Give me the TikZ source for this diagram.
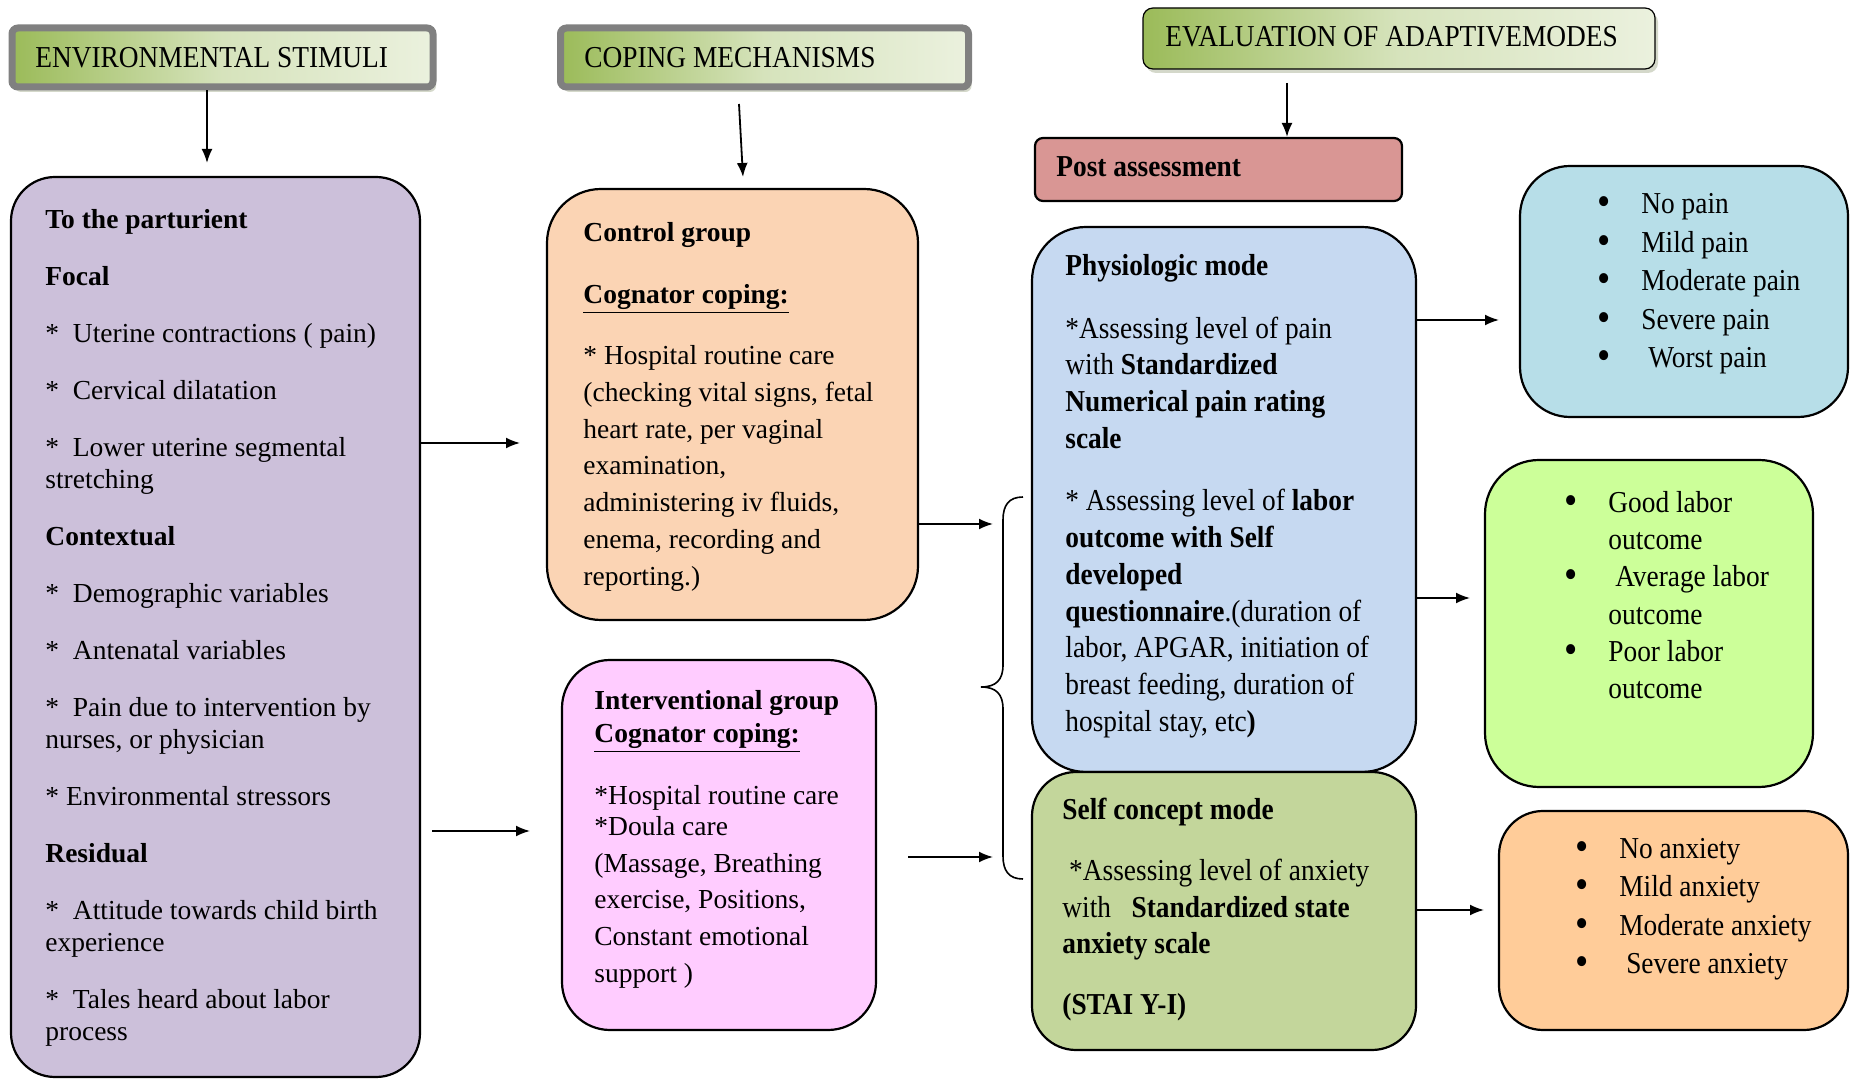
\documentclass[tikz,border=0pt]{standalone}
\usepackage{fontspec}
\setmainfont{Liberation Serif}
\newfontfamily\narrowfont[FakeStretch=0.9]{Liberation Serif}
\usepackage{xcolor}
\usetikzlibrary{arrows.meta,shadows}

\definecolor{hdark}{RGB}{155,187,89}
\definecolor{hmid}{RGB}{214,227,188}
\definecolor{hlight}{RGB}{235,241,222}
\definecolor{hgray}{RGB}{128,128,128}
\definecolor{hshadow}{RGB}{170,178,150}
\definecolor{stimfill}{RGB}{204,192,218}
\definecolor{ctrlfill}{RGB}{251,212,180}
\definecolor{intfill}{RGB}{255,204,255}
\definecolor{physfill}{RGB}{198,217,241}
\definecolor{selffill}{RGB}{195,214,155}
\definecolor{postfill}{RGB}{217,150,148}
\definecolor{painfill}{RGB}{183,222,232}
\definecolor{laborfill}{RGB}{204,255,153}
\definecolor{anxfill}{RGB}{255,204,153}

\newcommand{\itembul}{\makebox[22pt][l]{\raisebox{-1pt}{\fontsize{21pt}{21pt}\selectfont\textbullet}}}
\newcommand{\itemskip}{\hspace*{22pt}}

\begin{document}
\begin{tikzpicture}[x=0.5pt,y=0.5pt,yscale=-1,
  rbox/.style={draw, line width=1.1pt, inner sep=0pt},
  head/.style={left color=hdark, right color=hlight, middle color=hmid, inner sep=0pt},
  txt/.style={anchor=north west, inner sep=0pt, align=left},
  widetxt/.style={txt, font=\fontsize{13.75pt}{16pt}\selectfont},
  opentxt/.style={txt, font=\fontsize{13.75pt}{18.35pt}\selectfont},
  narrowtxt/.style={txt, font=\narrowfont\fontsize{15.2pt}{18.35pt}\selectfont},
  headtxt/.style={anchor=west, inner sep=0pt, font=\narrowfont\fontsize{15.2pt}{18pt}\selectfont},
  arr/.style={-{Latex[length=7pt,width=5.5pt]}, line width=0.9pt}]
\useasboundingbox (0,0) rectangle (1854,1079);

%Shape: Header boxes
\node [head, draw=hgray, line width=3.5pt, rounded corners=3pt, minimum width=210.5pt, minimum height=29.5pt,
  drop shadow={shadow xshift=1.5pt, shadow yshift=-2.5pt, fill=hshadow}] (envhead) at (222.5,57.5) {};
\node [head, draw=hgray, line width=3.5pt, rounded corners=3pt, minimum width=204pt, minimum height=29.5pt,
  drop shadow={shadow xshift=1.5pt, shadow yshift=-2.5pt, fill=hshadow}] (copehead) at (764.5,57.5) {};
\node [head, draw, line width=0.6pt, rounded corners=5pt, minimum width=256pt, minimum height=30.5pt,
  drop shadow={shadow xshift=1.5pt, shadow yshift=-2pt, fill=hshadow}] (evalhead) at (1399,38.5) {};

%Shape: Post assessment
\node [rbox, fill=postfill, rounded corners=4pt, minimum width=183.5pt, minimum height=31.5pt] (post) at (1218.5,169.5) {};

%Shape: Rounded boxes
\node [rbox, fill=stimfill, rounded corners=22pt, minimum width=204.5pt, minimum height=450pt] (stimuli) at (215.5,627) {};
\node [rbox, fill=ctrlfill, rounded corners=27pt, minimum width=185.5pt, minimum height=215.5pt] (control) at (732.5,404.5) {};
\node [rbox, fill=intfill, rounded corners=24pt, minimum width=157pt, minimum height=185pt] (interv) at (719,845) {};
\node [rbox, fill=physfill, rounded corners=27pt, minimum width=192pt, minimum height=272.5pt] (physio) at (1224,499.5) {};
\node [rbox, fill=selffill, rounded corners=22pt, minimum width=192pt, minimum height=139pt] (selfc) at (1224,911) {};
\node [rbox, fill=painfill, rounded corners=25pt, minimum width=164pt, minimum height=125.5pt] (painlv) at (1684,291.5) {};
\node [rbox, fill=laborfill, rounded corners=27pt, minimum width=164pt, minimum height=163.5pt] (laborlv) at (1649,623.5) {};
\node [rbox, fill=anxfill, rounded corners=22pt, minimum width=174.5pt, minimum height=109.5pt] (anxlv) at (1673.5,920.5) {};

%Shape: Brace
\draw [line width=0.8pt] (1023,497) .. controls (1009,497) and (1003,505) .. (1003,520) -- (1003,665)
  .. controls (1003,680) and (996,687) .. (981,687) .. controls (996,687) and (1003,694) .. (1003,709)
  -- (1003,856) .. controls (1003,871) and (1009,879) .. (1023,879);

% Arrows
\coordinate (stim-in) at (207,163);
\coordinate (cope-a) at (739,104);
\coordinate (cope-b) at (743,177);
\coordinate (eval-a) at (1287,83);
\coordinate (ctrl-in) at (520,443);
\coordinate (int-a) at (432,831);
\coordinate (int-b) at (530,831);
\coordinate (brace-a) at (993,524);
\coordinate (brace-b1) at (908,857);
\coordinate (brace-b2) at (993,857);
\coordinate (pain-in) at (1499,320);
\coordinate (labor-in) at (1470,598);
\coordinate (anx-in) at (1484,910);
\draw [arr] (stim-in |- envhead.south) -- (stim-in);
\draw [arr] (cope-a) -- (cope-b);
\draw [arr] (eval-a) -- (eval-a |- post.north);
\draw [arr] (stimuli.east |- ctrl-in) -- (ctrl-in);
\draw [arr] (int-a) -- (int-b);
\draw [arr] (control.east |- brace-a) -- (brace-a);
\draw [arr] (brace-b1) -- (brace-b2);
\draw [arr] (physio.east |- pain-in) -- (pain-in);
\draw [arr] (physio.east |- labor-in) -- (labor-in);
\draw [arr] (selfc.east |- anx-in) -- (anx-in);

% Text Node
\node [headtxt] (envhead-txt) at (35,58) {ENVIRONMENTAL STIMULI};
% Text Node
\node [headtxt] (copehead-txt) at (584,58) {COPING MECHANISMS};
% Text Node
\node [headtxt] (evalhead-txt) at (1165,37) {EVALUATION OF ADAPTIVEMODES};
% Text Node
\node [headtxt] (post-txt) at (1056,167) {\textbf{Post assessment}};
% Text Node
\node [widetxt] (stimuli-txt) at (45,209) {\textbf{To the parturient}\\[12.5pt]
\textbf{Focal}\\[12.5pt]
*\ \ Uterine contractions ( pain)\\[12.5pt]
*\ \ Cervical dilatation\\[12.5pt]
*\ \ Lower uterine segmental\\
stretching\\[12.5pt]
\textbf{Contextual}\\[12.5pt]
*\ \ Demographic variables\\[12.5pt]
*\ \ Antenatal variables\\[12.5pt]
*\ \ Pain due to intervention by\\
nurses, or physician\\[12.5pt]
* Environmental stressors\\[12.5pt]
\textbf{Residual}\\[12.5pt]
*\ \ Attitude towards child birth\\
experience\\[12.5pt]
*\ \ Tales heard about labor\\
process};
% Text Node
\node [opentxt] (control-txt) at (583,222) {\textbf{Control group}\\[12.5pt]
\textbf{\underline{Cognator coping:}}\\[12.5pt]
* Hospital routine care\\
(checking vital signs, fetal\\
heart rate, per vaginal\\
examination,\\
administering iv fluids,\\
enema, recording and\\
reporting.)};
% Text Node
\node [opentxt] (interv-txt) at (594,690) {\textbf{Interventional group}\\[-2pt]
\textbf{\underline{Cognator coping:}}\\[13pt]
*Hospital routine care\\[-3pt]
*Doula care\\
(Massage, Breathing\\
exercise, Positions,\\
Constant emotional\\
support )};
% Text Node
\node [narrowtxt] (physio-txt) at (1065,254) {\textbf{Physiologic mode}\\[13pt]
*Assessing level of pain\\
with \textbf{Standardized}\\
\textbf{Numerical pain rating}\\
\textbf{scale}\\[13pt]
* Assessing level of \textbf{labor}\\
\textbf{outcome with Self}\\
\textbf{developed}\\
\textbf{questionnaire}.(duration of\\
labor, APGAR, initiation of\\
breast feeding, duration of\\
hospital stay, etc\textbf{)}};
% Text Node
\node [narrowtxt] (selfc-txt) at (1062,798) {\textbf{Self concept mode}\\[12pt]
\ *Assessing level of anxiety\\
with\ \ \ \textbf{Standardized state}\\
\textbf{anxiety scale}\\[12pt]
\textbf{(STAI Y-I)}};
% Text Node
\node [narrowtxt, font=\narrowfont\fontsize{15.2pt}{19.25pt}\selectfont] (painlv-txt) at (1597,193) {\itembul No pain\\
\itembul Mild pain\\
\itembul Moderate pain\\
\itembul Severe pain\\
\itembul\ Worst pain};
% Text Node
\node [narrowtxt, font=\narrowfont\fontsize{15.2pt}{18.6pt}\selectfont] (laborlv-txt) at (1564,491) {\itembul Good labor\\
\itemskip outcome\\
\itembul\ Average labor\\
\itemskip outcome\\
\itembul Poor labor\\
\itemskip outcome};
% Text Node
\node [narrowtxt, font=\narrowfont\fontsize{15.2pt}{19.15pt}\selectfont] (anxlv-txt) at (1575,838) {\itembul No anxiety\\
\itembul Mild anxiety\\
\itembul Moderate anxiety\\
\itembul\ Severe anxiety};

\end{tikzpicture}
\end{document}
